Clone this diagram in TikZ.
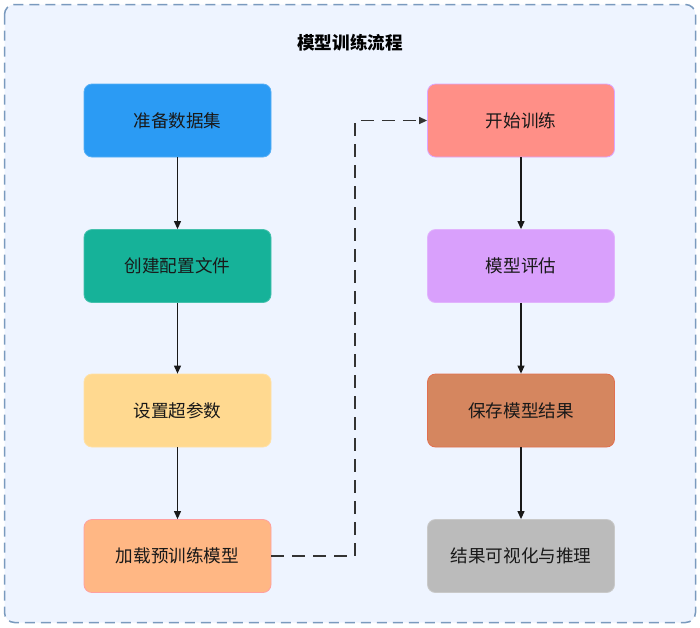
\documentclass[tikz,border=0pt]{standalone}
\usepackage{fontspec}
\newfontfamily\cjk{Noto Sans CJK SC}
\usetikzlibrary{arrows.meta}

\definecolor{bgblue}{RGB}{238,244,255}
\definecolor{frameblue}{RGB}{122,154,190}
\definecolor{dataset}{RGB}{43,155,244}
\definecolor{config}{RGB}{22,178,153}
\definecolor{hyper}{RGB}{255,217,144}
\definecolor{pretrain}{RGB}{255,183,132}
\definecolor{pretrainline}{RGB}{255,160,160}
\definecolor{train}{RGB}{255,143,135}
\definecolor{trainline}{RGB}{220,165,255}
\definecolor{evaluate}{RGB}{217,160,252}
\definecolor{save}{RGB}{213,134,95}
\definecolor{saveline}{RGB}{225,112,80}
\definecolor{infer}{RGB}{187,187,187}

\tikzset{
  stepbox/.style={rounded corners=8pt, minimum width=187pt, minimum height=73pt,
    line width=0.8pt, text=black!90, inner sep=0pt},
  flow/.style={-{Triangle[length=8pt,width=7pt]}, line width=1.1pt, black!90},
}

\begin{document}
\begin{tikzpicture}[x=1pt,y=-1pt,font=\cjk\fontsize{17.6}{20}\selectfont]
\useasboundingbox (0,0) rectangle (700,627);
% container
\draw[frameblue, line width=1.5pt, dash pattern=on 10pt off 6pt, fill=bgblue,
  rounded corners=10pt] (4.5,4.5) rectangle (695.5,622.5);
\node[font=\cjk\bfseries\fontsize{17.6}{20}\selectfont] (title) at (350,43) {模型训练流程};

% left column
\foreach \y/\A/\fc/\dc [count=\i] in {120.5/准备数据集/dataset/dataset!80!white,
    266/创建配置文件/config/config!80!white,
    410.5/设置超参数/hyper/hyper!80!white,
    556/加载预训练模型/pretrain/pretrainline} {
  \node[stepbox, fill=\fc, draw=\dc] (L\i) at (177.5,\y) {\A};
}
% right column
\foreach \y/\A/\fc/\dc [count=\i] in {120.5/开始训练/train/trainline,
    266/模型评估/evaluate/evaluate!80!white,
    410.5/保存模型结果/save/saveline,
    556/结果可视化与推理/infer/infer!80!white} {
  \node[stepbox, fill=\fc, draw=\dc] (R\i) at (521,\y) {\A};
}

\foreach \a/\b in {1/2,2/3,3/4} {
  \draw[flow] (L\a.south) -- (L\b.north);
  \draw[flow] (R\a.south) -- (R\b.north);
}
\coordinate (turn) at (355,0);
\draw[flow, black!80, line width=1.4pt, dash pattern=on 13pt off 8pt] (L4.east)
  -- (L4.east -| turn) -- (R1.west -| turn) -- (R1.west);
\end{tikzpicture}
\end{document}
